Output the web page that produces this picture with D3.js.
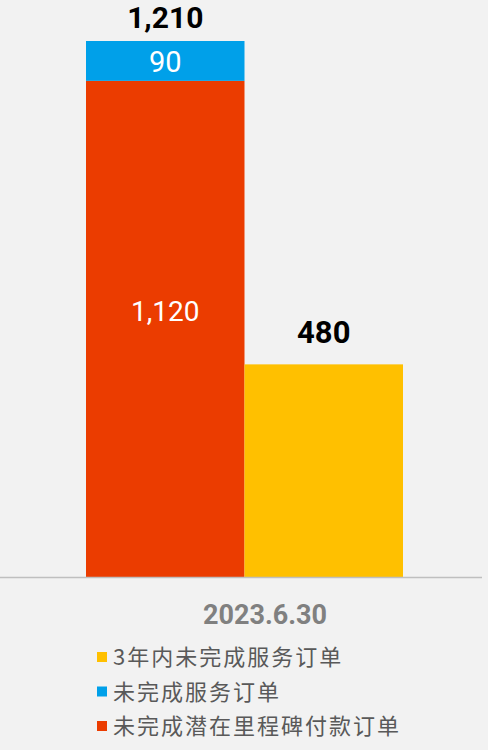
<!DOCTYPE html>
<html>
<head>
<meta charset="utf-8">
<script src="https://cdn.jsdelivr.net/npm/d3@7"></script>
<style>
  html, body { margin: 0; padding: 0; background: #f2f2f2; }
  svg { display: block; }
</style>
</head>
<body>
<svg id="chart"></svg>
<script>
/* global d3 */
const categories = ['2023.6.30'];
const stackA = [1120]; // 未完成潜在里程碑付款订单
const stackB = [90];   // 未完成服务订单
const sideC = [480];   // 3年内未完成服务订单
const legendLabels = ['3年内未完成服务订单', '未完成服务订单', '未完成潜在里程碑付款订单'];
const legendColors = ['#ffc000', '#00a0e9', '#eb3c00'];

const width = 488;
const height = 750;
const svg = d3.select('#chart').attr('width', width).attr('height', height);

svg.append('rect').attr('width', width).attr('height', height).attr('fill', '#f2f2f2');

const baseY = 577;
const y = d3.scaleLinear().domain([0, 1210]).range([baseY, 41]);

const x = d3.scaleBand().domain(categories).range([86, 403]);
const sub = d3.scaleBand().domain(['stack', 'side']).range([0, x.bandwidth()]);

const g = svg.append('g');

categories.forEach(function (c, i) {
    const x0 = x(c);
    const total = stackA[i] + stackB[i];

    // red part
    g.append('rect')
        .attr('x', x0 + sub('stack'))
        .attr('y', y(stackA[i]))
        .attr('width', sub.bandwidth())
        .attr('height', y(0) - y(stackA[i]))
        .attr('fill', legendColors[2]);

    // blue part
    g.append('rect')
        .attr('x', x0 + sub('stack'))
        .attr('y', y(total))
        .attr('width', sub.bandwidth())
        .attr('height', y(stackA[i]) - y(total))
        .attr('fill', legendColors[1]);

    // yellow bar
    g.append('rect')
        .attr('x', x0 + sub('side'))
        .attr('y', y(sideC[i]))
        .attr('width', sub.bandwidth())
        .attr('height', y(0) - y(sideC[i]))
        .attr('fill', legendColors[0]);

    const cx1 = x0 + sub('stack') + sub.bandwidth() / 2;
    const cx2 = x0 + sub('side') + sub.bandwidth() / 2;

    // label sits a bit above the middle of the red part, as in the original
    g.append('text')
        .attr('x', cx1)
        .attr('y', y(stackA[i] * 0.535) + 9)
        .attr('text-anchor', 'middle')
        .attr('font-family', 'Roboto, sans-serif')
        .attr('font-size', 28)
        .attr('fill', '#fff')
        .text(d3.format(',')(stackA[i]));

    g.append('text')
        .attr('x', cx1)
        .attr('y', (y(stackA[i]) + y(total)) / 2 + 11)
        .attr('text-anchor', 'middle')
        .attr('font-family', 'Roboto, sans-serif')
        .attr('font-size', 29)
        .attr('fill', '#fff')
        .text(d3.format(',')(stackB[i]));

    g.append('text')
        .attr('x', cx1)
        .attr('y', y(total) - 13)
        .attr('text-anchor', 'middle')
        .attr('font-family', 'Roboto, sans-serif')
        .attr('font-weight', 'bold')
        .attr('font-size', 30)
        .attr('fill', '#000')
        .text(d3.format(',')(total));

    g.append('text')
        .attr('x', cx2)
        .attr('y', y(sideC[i]) - 21)
        .attr('text-anchor', 'middle')
        .attr('font-family', 'Roboto, sans-serif')
        .attr('font-weight', 'bold')
        .attr('font-size', 31)
        .attr('fill', '#000')
        .text(d3.format(',')(sideC[i]));

    // category label
    svg.append('text')
        .attr('x', 265)
        .attr('y', 624)
        .attr('text-anchor', 'middle')
        .attr('font-family', 'Roboto, sans-serif')
        .attr('font-weight', 'bold')
        .attr('font-size', 27)
        .attr('fill', '#808080')
        .text(c);
});

// axis baseline
svg.append('line')
    .attr('x1', 0)
    .attr('x2', 482)
    .attr('y1', baseY + 0.5)
    .attr('y2', baseY + 0.5)
    .attr('stroke', '#bfbfbf')
    .attr('stroke-width', 1.5);

// legend
const legend = svg.append('g');
legendLabels.forEach(function (label, i) {
    const ly = 657 + i * 34.5;
    legend.append('rect')
        .attr('x', 97)
        .attr('y', ly - 5)
        .attr('width', 10)
        .attr('height', 10)
        .attr('fill', legendColors[i]);
    legend.append('text')
        .attr('x', 113)
        .attr('y', ly + 8)
        .attr('font-family', '"Noto Sans CJK SC", sans-serif')
        .attr('font-size', 22)
        .attr('letter-spacing', 2)
        .attr('fill', '#595959')
        .text(label);
});
</script>
</body>
</html>
